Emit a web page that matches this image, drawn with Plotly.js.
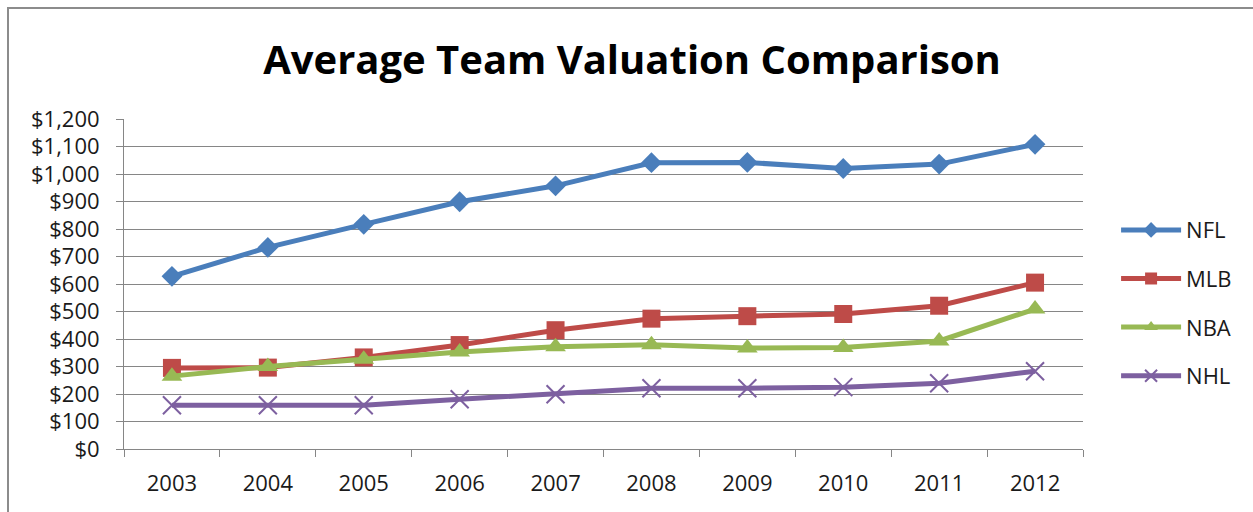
<!DOCTYPE html>
<html>
<head>
<meta charset="utf-8">
<script src="https://cdn.plot.ly/plotly-3.0.1.min.js"></script>
<style>
  html, body { margin: 0; padding: 0; background: #fff; }
  #frame { position: absolute; left: 7px; top: 7px; width: 1260px; height: 520px; border: 2px solid #8c8c8c; box-sizing: border-box; }
  #chart { position: absolute; left: 0; top: 0; width: 1253px; height: 512px; }
</style>
</head>
<body>
<div id="frame"></div>
<div id="chart"></div>
<script>
const years = ['2003','2004','2005','2006','2007','2008','2009','2010','2011','2012'];
const nfl = [628, 733, 817, 899, 957, 1041, 1042, 1020, 1036, 1108];
const mlb = [295, 296, 333, 378, 432, 474, 483, 491, 521, 605];
const nba = [265, 300, 326, 353, 372, 379, 367, 369, 393, 509];
const nhl = [159, 159, 159, 181, 199, 221, 221, 225, 239, 283];
const tickVals = [0,100,200,300,400,500,600,700,800,900,1000,1100,1200];
const tickText = tickVals.map(v => '$' + v.toLocaleString('en-US'));

const FONT = 'Open Sans, Noto Sans, sans-serif';

function tr(name, y, color, symbol, size, group) {
  return {
    type: 'scatter', mode: 'lines+markers', name: name, x: years, y: y,
    legendgroup: group,
    line: {color: color, width: 5},
    marker: symbol === 'x-thin'
      ? {symbol: symbol, size: size, color: color, line: {color: color, width: 2}}
      : {symbol: symbol, size: size, color: color, line: {width: 0}},
    cliponaxis: false
  };
}

const data = [
  tr('NFL', nfl, '#4a7ebb', 'diamond', 16, 'a'),
  tr('MLB', mlb, '#be4b48', 'square', 18, 'b'),
  tr('NBA', nba, '#98b954', 'triangle-up', 18, 'c'),
  tr('NHL', nhl, '#7d60a0', 'x-thin', 18, 'd')
];

const layout = {
  width: 1253, height: 512,
  margin: {l: 124, r: 170, t: 119, b: 63},
  paper_bgcolor: 'rgba(0,0,0,0)',
  plot_bgcolor: '#ffffff',
  font: {family: FONT, color: '#1a1a1a', size: 22},
  title: {
    text: 'Average Team Valuation Comparison',
    font: {family: FONT, size: 40, weight: 'bold', color: '#000'},
    x: 0.5044, xref: 'container', xanchor: 'center',
    y: 0.883, yref: 'container', yanchor: 'middle'
  },
  xaxis: {
    type: 'category',
    range: [-0.5, 9.5],
    tickson: 'boundaries',
    ticks: 'outside', ticklen: 7, tickcolor: '#868686', tickwidth: 1,
    showline: true, linecolor: '#868686', linewidth: 1,
    showgrid: false, zeroline: false,
    ticklabelstandoff: 15,
    tickfont: {family: FONT, size: 22, color: '#1a1a1a'}
  },
  yaxis: {
    range: [0, 1200], tickmode: 'array', tickvals: tickVals, ticktext: tickText,
    ticks: 'outside', ticklen: 7, tickcolor: '#868686', tickwidth: 1,
    showline: true, linecolor: '#868686', linewidth: 1,
    showgrid: true, gridcolor: '#868686', gridwidth: 1,
    zeroline: false,
    ticklabelstandoff: 12,
    tickfont: {family: FONT, size: 22, color: '#1a1a1a'}
  },
  showlegend: true,
  legend: {
    x: 1.0345, xanchor: 'left', y: 0.727, yanchor: 'top',
    font: {family: FONT, size: 22, color: '#1a1a1a'},
    tracegroupgap: 17,
    itemwidth: 60,
    itemsizing: 'constant',
    bgcolor: 'rgba(0,0,0,0)'
  }
};

Plotly.newPlot('chart', data, layout, {staticPlot: true, displayModeBar: false});
</script>
</body>
</html>
